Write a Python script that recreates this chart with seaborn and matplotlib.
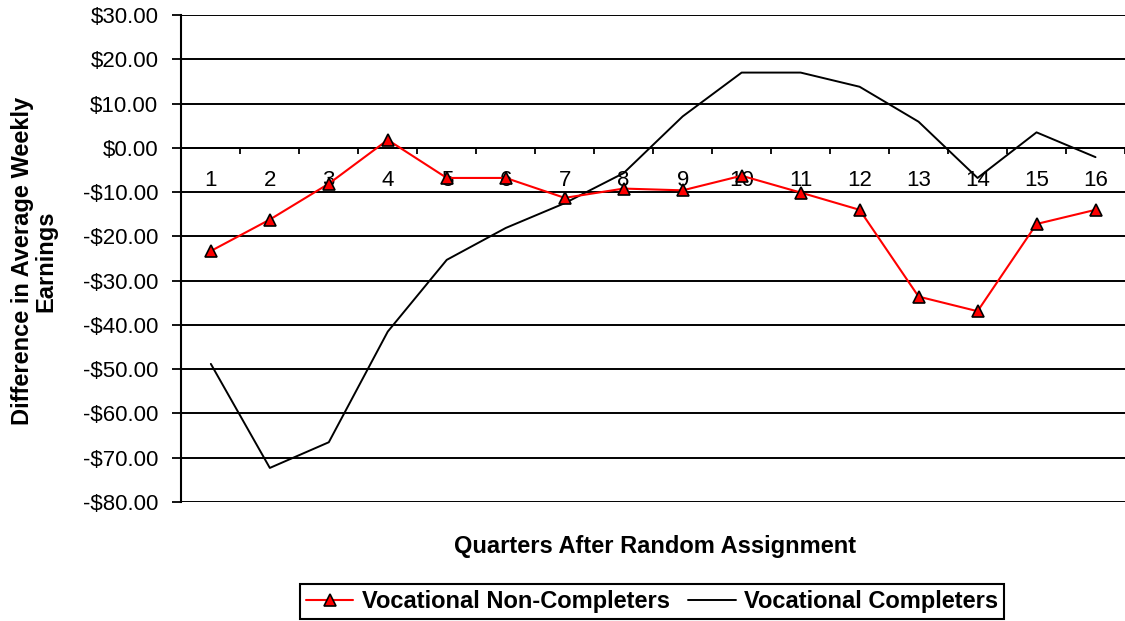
import matplotlib
matplotlib.use("Agg")
import matplotlib.pyplot as plt
from matplotlib.ticker import FuncFormatter, FixedLocator
import seaborn as sns
import pandas as pd

quarters = list(range(1, 17))
non_completers = [-23.3, -16.2, -8.1, 1.8, -6.8, -6.8, -11.3, -9.2, -9.6, -6.3,
                  -10.1, -14.0, -33.6, -36.9, -17.2, -14.0]
completers = [-48.8, -72.3, -66.5, -41.5, -25.3, -18.1, -12.5, -5.7, 7.1, 17.0,
              17.0, 13.8, 5.9, -6.8, 3.5, -2.1]
y_ticks = [30, 20, 10, 0, -10, -20, -30, -40, -50, -60, -70, -80]
x_label = "Quarters After Random Assignment"
y_label = "Difference in Average Weekly\nEarnings"
series_names = ["Vocational Non-Completers", "Vocational Completers"]

sns.set_style("white")
plt.rcParams['font.family'] = ['Liberation Sans', 'DejaVu Sans']
plt.rcParams['text.color'] = 'black'
plt.rcParams['axes.labelcolor'] = 'black'
plt.rcParams['xtick.color'] = 'black'
plt.rcParams['ytick.color'] = 'black'

df = pd.DataFrame({"quarter": quarters, "nc": non_completers, "c": completers})

fig = plt.figure(figsize=(11.25, 6.21), dpi=100)
ax = fig.add_axes([0.1612, 0.1916, 1.0 - 0.1612, 0.9758 - 0.1916])

sns.lineplot(data=df, x="quarter", y="c", ax=ax, color="black", linewidth=1.4,
             label=series_names[1], zorder=3)
sns.lineplot(data=df, x="quarter", y="nc", ax=ax, color="#FF0000", linewidth=1.5,
             marker="^", markersize=9, markerfacecolor="#FF0000",
             markeredgecolor="black", markeredgewidth=1.2,
             label=series_names[0], zorder=4)

ax.set_xlim(0.5, 16.40)
ax.set_ylim(-80, 30)

ax.yaxis.set_major_locator(FixedLocator(y_ticks))
ax.yaxis.set_major_formatter(FuncFormatter(
    lambda v, p: f"-${abs(v):.2f}" if v < 0 else f"${v:.2f}"))
ax.grid(axis="y", color="black", linewidth=1.4)
ax.set_axisbelow(True)

ax.set_xticks(quarters)
ax.set_xticklabels([str(q) for q in quarters])
ax.set_xticks([q + 0.5 for q in quarters], minor=True)
ax.tick_params(axis="x", which="major", bottom=True, length=0, pad=16,
               labelsize=16, labelcolor="black")
ax.tick_params(axis="x", which="minor", bottom=True, length=4.5, width=1.3,
               color="black", direction="out")
ax.tick_params(axis="y", which="major", left=True, length=6.5, width=1.3,
               color="black", direction="out", pad=10, labelsize=16,
               labelcolor="black")

for s in ["top", "right"]:
    ax.spines[s].set_visible(False)
ax.spines["bottom"].set_position(("data", 0))
ax.spines["bottom"].set_color("black")
ax.spines["bottom"].set_linewidth(1.4)
ax.spines["left"].set_color("black")
ax.spines["left"].set_linewidth(1.5)

ax.set_xlabel(x_label, fontsize=17, fontweight="bold", va="center", color="black")
ax.xaxis.set_label_coords(0.502, -0.0923)
ax.set_ylabel(y_label, fontsize=17, fontweight="bold", va="center",
              multialignment="center", linespacing=1.0, color="black")
ax.yaxis.set_label_coords(-0.156, 0.495)

handles, labels = ax.get_legend_handles_labels()
order = [labels.index(series_names[0]), labels.index(series_names[1])]
ax.get_legend().remove()
leg = fig.legend([handles[i] for i in order], [labels[i] for i in order],
                 loc="center", bbox_to_anchor=(0.5796, 0.0314), ncol=2,
                 frameon=True, fancybox=False, edgecolor="black", framealpha=1.0,
                 prop={"weight": "bold", "size": 17}, handlelength=2.0,
                 handletextpad=0.35, columnspacing=0.8, borderpad=0.25,
                 markerscale=0.9)
leg.get_frame().set_linewidth(1.5)

fig.savefig("out.png", dpi=100)
